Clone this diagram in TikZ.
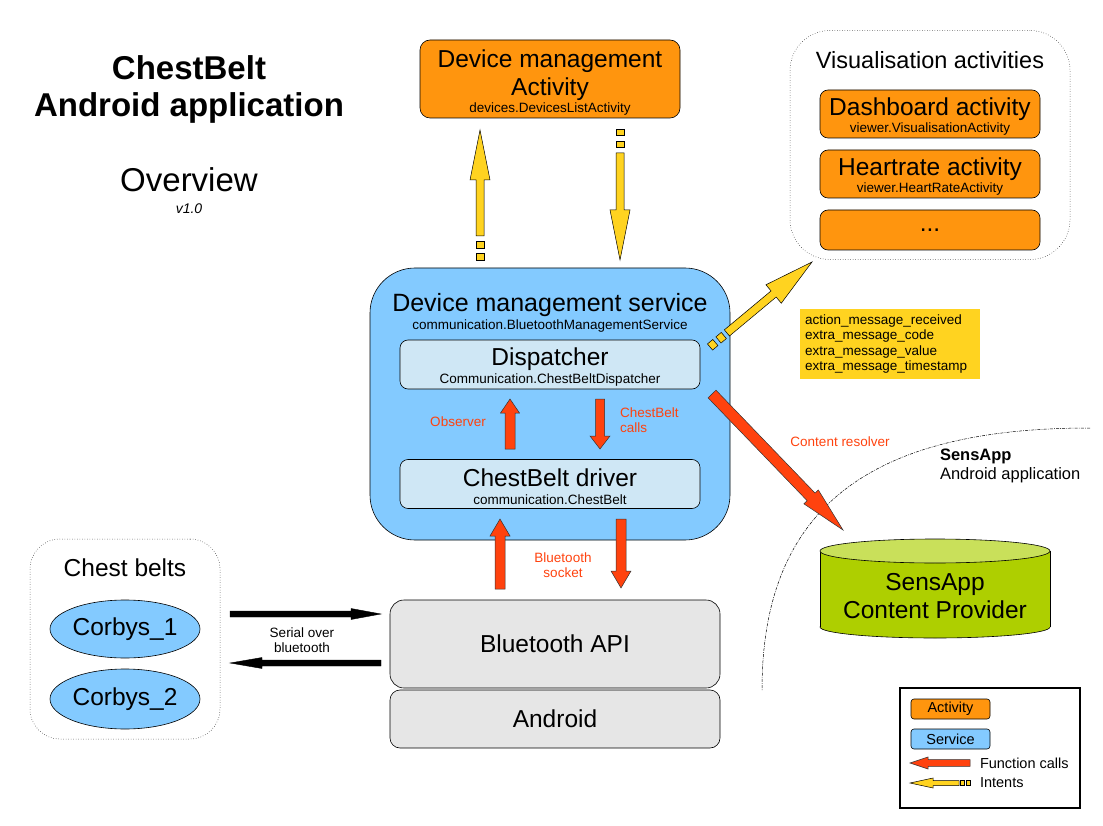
\documentclass[tikz,border=0pt]{standalone}
\usepackage{fontspec}
\setmainfont{Liberation Sans}
\usetikzlibrary{calc,shapes.geometric}
\definecolor{orng}{HTML}{FF950E}
\definecolor{redd}{HTML}{FF420E}
\definecolor{yell}{HTML}{FFD320}
\definecolor{blu}{HTML}{83CAFF}
\definecolor{lblu}{HTML}{CFE7F5}
\definecolor{gry}{HTML}{E6E6E6}
\definecolor{grn}{HTML}{AECF00}
\definecolor{lgrn}{HTML}{C9E05A}
\newcommand\Fbig{\fontsize{24.5}{28}\selectfont}
\newcommand\Fsub{\fontsize{13.5}{15}\selectfont}
\newcommand\Flab{\fontsize{13.5}{15.5}\selectfont}
\newcommand\Fleg{\fontsize{14.5}{16}\selectfont}
\newcommand\TopStrut[1]{\rule{0pt}{#1}}
\newcommand\segbox[4]{\filldraw[#4] ($(#1)!#3!90:(#2)$) -- ($(#2)!#3!-90:(#1)$) -- ($(#2)!#3!90:(#1)$) -- ($(#1)!#3!-90:(#2)$) -- cycle;}
\newcommand\blockarrow[6]{%
  \coordinate (bah) at ($(#2)!#5!(#1)$);
  \filldraw[#6] ($(#1)!#3!90:(#2)$) -- ($(bah)!#3!90:(#2)$) -- ($(bah)!#4!90:(#2)$) -- (#2) -- ($(bah)!#4!-90:(#2)$) -- ($(bah)!#3!-90:(#2)$) -- ($(#1)!#3!-90:(#2)$) -- cycle;}
\newcommand\intentarrow[7]{%
  \pgfmathsetmacro\iaA{#6}\pgfmathsetmacro\iaB{#6+#7}\pgfmathsetmacro\iaC{2*#6+#7}\pgfmathsetmacro\iaD{2*#6+2*#7}%
  \coordinate (iaa) at ($(#1)!\iaA pt!(#2)$);
  \coordinate (iab) at ($(#1)!\iaB pt!(#2)$);
  \coordinate (iac) at ($(#1)!\iaC pt!(#2)$);
  \coordinate (iad) at ($(#1)!\iaD pt!(#2)$);
  \segbox{#1}{iaa}{#3}{intent}
  \segbox{iab}{iac}{#3}{intent}
  \blockarrow{iad}{#2}{#3}{#4}{#5}{intent}}
\begin{document}
\begin{tikzpicture}[x=1pt,y=-1pt,
  every node/.style={inner sep=0pt, outer sep=0pt},
  activity/.style={draw=black, line width=0.6pt, fill=orng, rounded corners=10pt, align=center, font=\Fbig},
  service/.style={draw=black, line width=0.6pt, fill=blu, align=center},
  inbox/.style={draw=black, line width=0.6pt, fill=lblu, rounded corners=8pt, align=center, font=\Fbig},
  graybox/.style={draw=black, line width=0.6pt, fill=gry, rounded corners=14pt, align=center, font=\Fbig},
  container/.style={draw=black, line width=0.5pt, dotted},
  belt/.style={draw=black, line width=0.6pt, fill=blu, ellipse, font=\Fbig},
  fcall/.style={fill=redd, draw=black!80, line width=0.5pt},
  intent/.style={fill=yell, draw=black, line width=0.5pt},
  blk/.style={fill=black, draw=black, line width=0.4pt},
  redlab/.style={text=redd, font=\Flab, align=center}]
\useasboundingbox (0,0) rectangle (1103,826);

% titles
\node[align=center, font=\fontsize{33}{37}\selectfont\bfseries] (title) at (189,89) {ChestBelt\\Android application};
\node[font=\fontsize{33}{37}\selectfont] (overview) at (189,180) {Overview};
\node[font=\fontsize{14}{16}\selectfont\itshape] (version) at (189,209) {v1.0};

% device management activity
\node[activity, minimum width=260pt, minimum height=78pt] (dma) at (550,79) {\TopStrut{25pt}Device management\\Activity\\[-11pt]{\Fsub devices.DevicesListActivity}};

% visualisation activities
\node[container, rounded corners=40pt, minimum width=280pt, minimum height=229pt] (vis) at (930,145) {};
\node[font=\fontsize{23.5}{27}\selectfont] (vistitle) at (930,60) {Visualisation activities};
\node[activity, minimum width=220pt, minimum height=48pt, rounded corners=8pt] (dash) at (930,114) {\TopStrut{23pt}Dashboard activity\\[-11pt]{\Fsub viewer.VisualisationActivity}};
\node[activity, minimum width=220pt, minimum height=48pt, rounded corners=8pt] (heart) at (930,174) {\TopStrut{23pt}Heartrate activity\\[-11pt]{\Fsub viewer.HeartRateActivity}};
\node[activity, minimum width=220pt, minimum height=40pt, rounded corners=8pt] (more) at (930,230) {...};

% device management service
\node[service, rounded corners=45pt, minimum width=360pt, minimum height=272pt] (dms) at (550,404) {};
\node[align=center, font=\fontsize{25}{28}\selectfont] (dmstitle) at (550,313) {Device management service\\[-10pt]{\Fsub communication.BluetoothManagementService}};
\node[inbox, minimum width=300pt, minimum height=49pt] (disp) at (550,364.5) {\TopStrut{23pt}Dispatcher\\[-10pt]{\Fsub Communication.ChestBeltDispatcher}};
\node[inbox, minimum width=300pt, minimum height=49pt] (drv) at (550,484) {\TopStrut{23pt}ChestBelt driver\\[-10pt]{\Fsub communication.ChestBelt}};

% bluetooth api / android
\node[graybox, minimum width=330pt, minimum height=88pt] (bt) at (555,644) {Bluetooth API};
\node[graybox, minimum width=330pt, minimum height=58pt, rounded corners=10pt] (android) at (555,719) {Android};

% chest belts
\node[container, rounded corners=30pt, minimum width=190pt, minimum height=200pt] (belts) at (125,639) {};
\node[font=\Fbig] (beltstitle) at (125,568) {Chest belts};
\node[belt, minimum width=150pt, minimum height=58pt] (c1) at (125,629) {Corbys\_1};
\node[belt, minimum width=150pt, minimum height=60pt] (c2) at (125,699) {Corbys\_2};

% serial arrows
\coordinate (sa1) at (230,614); \coordinate (sa2) at (381,614);
\coordinate (sb1) at (381,663); \coordinate (sb2) at (230,663);
\blockarrow{sa1}{sa2}{3pt}{5.5pt}{30pt}{blk}
\blockarrow{sb1}{sb2}{3pt}{5.5pt}{32pt}{blk}
\node[align=center, font=\fontsize{13.5}{15}\selectfont] (serial) at (302,640) {Serial over\\bluetooth};

% function call arrows inside service
\coordinate (ob1) at (510,449); \coordinate (ob2) at (510,399);
\blockarrow{ob1}{ob2}{5pt}{9.5pt}{14pt}{fcall}
\node[redlab] (obslab) at (458,422) {Observer};
\coordinate (cc1) at (600,399); \coordinate (cc2) at (600,449);
\blockarrow{cc1}{cc2}{4.5pt}{10pt}{13pt}{fcall}
\node[redlab, anchor=west, align=left] (cclab) at (620,420) {ChestBelt\\calls};

% bluetooth socket arrows
\coordinate (bs1) at (500,589); \coordinate (bs2) at (500,519);
\blockarrow{bs1}{bs2}{5pt}{10pt}{17pt}{fcall}
\coordinate (bs3) at (621,519); \coordinate (bs4) at (621,588);
\blockarrow{bs3}{bs4}{5pt}{10pt}{17pt}{fcall}
\node[redlab] (bslab) at (563,565) {Bluetooth\\socket};

% intents between activity and service
\coordinate (iu1) at (480,260); \coordinate (iu2) at (480,130);
\intentarrow{iu1}{iu2}{4pt}{10pt}{50pt}{7}{5}
\coordinate (id1) at (620,129); \coordinate (id2) at (620,260);
\intentarrow{id1}{id2}{4pt}{10pt}{50pt}{6}{6}
\coordinate (iv1) at (710,347); \coordinate (iv2) at (812,262);
\intentarrow{iv1}{iv2}{4pt}{12pt}{50pt}{7}{4}

% message box
\node[fill=yell, minimum width=180pt, minimum height=70pt, text width=170pt, align=left, font=\fontsize{13.5}{15.5}\selectfont] (msg) at (890,344) {action\_message\_received\\extra\_message\_code\\extra\_message\_value\\extra\_message\_timestamp};

% SensApp region
\draw[line width=0.5pt, dash pattern=on 3pt off 1.2pt on 0.8pt off 1.2pt] (1090,428) .. controls (880,428) and (762,500) .. (762,690);
\node[anchor=west, align=left, font=\fontsize{16.5}{19}\selectfont] (sensapp) at (940,466) {\textbf{SensApp}\\Android application};

% cylinder
\filldraw[fill=grn, draw=black, line width=0.6pt] (935,627) ellipse[x radius=115, y radius=11];
\fill[grn] (820,551) rectangle (1050,627);
\draw[line width=0.6pt] (820,551) -- (820,627) (1050,551) -- (1050,627);
\filldraw[fill=lgrn, draw=black, line width=0.6pt] (935,551) ellipse[x radius=115, y radius=12];
\node[align=center, font=\Fbig] (cp) at (935,596) {SensApp\\Content Provider};

% content resolver arrow
\coordinate (cr1) at (712,394); \coordinate (cr2) at (843,530);
\blockarrow{cr1}{cr2}{5.5pt}{10pt}{46pt}{fcall}
\node[redlab] (crlab) at (840,442) {Content resolver};

% legend
\node[draw=black, line width=2pt, minimum width=180pt, minimum height=120pt] (legend) at (990,748) {};
\node[activity, rounded corners=3pt, minimum width=79pt, minimum height=20pt, font=\Fleg] (lgact) at (950.5,709) {Activity};
\node[service, rounded corners=3pt, minimum width=79pt, minimum height=20pt, font=\Fleg] (lgsrv) at (950.5,739) {Service};
\coordinate (lf1) at (970,763); \coordinate (lf2) at (910,763);
\blockarrow{lf1}{lf2}{3.3pt}{6pt}{18pt}{fcall}
\node[anchor=west, font=\Fleg] (lgfc) at (980,763) {Function calls};
\coordinate (li1) at (970,783); \coordinate (li2) at (910,783);
\intentarrow{li1}{li2}{2.5pt}{5pt}{23pt}{4}{1.5}
\node[anchor=west, font=\Fleg] (lgint) at (980,783) {Intents};
\end{tikzpicture}
\end{document}
